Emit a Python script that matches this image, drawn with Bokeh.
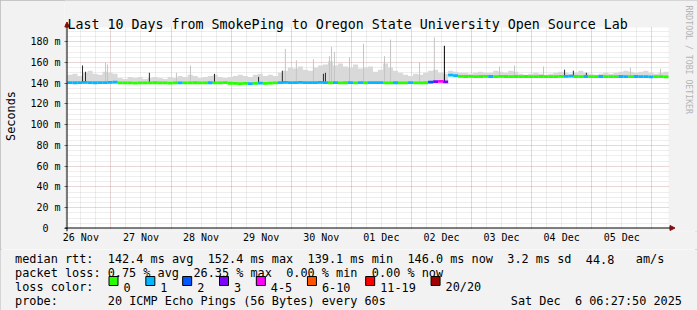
from datetime import datetime, timedelta
import math
import re
import numpy as np
from bokeh.plotting import figure
from bokeh.layouts import column
from bokeh.models import (Range1d, FixedTicker, Label, BoxAnnotation, Arrow,
                          NormalHead, ColumnDataSource, Grid)
from bokeh.core.properties import value
from bokeh.embed import file_html
from bokeh.resources import INLINE

# ---------------- data ----------------
title_text = "Last 10 Days from SmokePing to Oregon State University Open Source Lab"
start = datetime(2025, 11, 26, 6, 40)
end = start + timedelta(days=10)
step_hours = 2  # one sample every 2 hours

# upper edge of the grey "smoke" (ms)
smoke_top = [148, 149, 147, 150, 152, 149, 148, 151, 150, 149,
             145, 144, 146, 145, 146, 144, 145, 146, 145, 144, 146, 145, 147,
             146, 148, 147, 145, 146, 147, 148, 146, 145,
             146, 147, 148, 147, 146, 148, 149, 147, 148, 147,
             150, 152, 155, 154, 156, 153, 152, 155, 157,
             158, 161, 157, 159, 156, 155, 158, 154, 155, 156,
             151, 153, 159, 155, 152, 150,
             148, 147, 149, 148, 150,
             152, 153, 150, 149,
             152, 151, 150, 150, 149, 150, 151, 150, 150, 152, 151, 150, 152, 151,
             149, 148, 149, 150, 149, 148, 149, 150, 151, 150, 149, 150, 152, 150, 149,
             148, 149, 150, 149, 150, 151, 152, 151, 150, 151, 152, 150, 149, 150, 151]

# median rtt (ms)
median = [140.6, 140.4, 140.5, 140.8, 140.5, 140.4, 140.6, 140.5, 140.7, 140.9,
          140.2, 140.3, 140.2, 140.1, 140.3, 140.2, 140.2, 140.4, 140.3, 140.2, 140.1,
          140.3, 140.2, 140.2, 140.3, 140.4, 140.2, 140.3, 140.4, 140.2, 140.3, 140.5,
          139.9, 139.7, 139.6, 139.8, 139.5, 139.7, 140.1, 139.8, 140.0, 140.3,
          140.5, 140.8, 140.6, 140.5, 140.7, 140.6, 140.5, 140.6, 140.8,
          140.5, 140.4, 140.6, 140.3, 140.4, 140.5, 140.3, 140.6, 140.4, 140.5,
          140.6, 140.5, 140.3, 140.2, 140.4, 140.3,
          140.2, 140.5, 140.3, 140.2, 140.4,
          141.0, 141.4, 141.8, 141.2,
          147.8, 147.2, 146.6, 146.4, 146.5, 146.3, 146.4, 146.6, 146.4, 146.3, 146.5,
          146.4, 146.3, 146.4,
          146.3, 146.4, 146.2, 146.3, 146.4, 146.3, 146.2, 146.3, 146.5, 146.6, 146.8,
          146.4, 146.3, 146.4, 146.2, 146.3, 146.4, 146.3, 146.2, 146.3, 146.4, 146.3,
          146.2, 146.4, 146.3, 146.2, 146.1, 146.3, 146.2, 146.0]

# lost pings (of 20) per sample
loss = [1, 1, 1, 1, 1, 1, 1, 1, 1, 1,
        0, 0, 0, 0, 0, 0, 0, 0, 0, 0, 0, 0, 1, 0, 0, 0, 0, 0, 1, 0, 0, 0,
        0, 0, 0, 0, 1, 0, 1, 0, 0, 0,
        1, 1, 1, 1, 1, 1, 1, 1, 1,
        1, 0, 1, 0, 0, 1, 0, 1, 0, 1,
        1, 1, 0, 0, 1, 0,
        0, 1, 0, 0, 0,
        2, 3, 4, 3,
        1, 1, 0, 0, 0, 0, 0, 0, 1, 0, 0, 0, 0, 0,
        0, 0, 0, 0, 0, 0, 0, 0, 0, 1,
        1, 0, 0, 1, 0, 0, 1, 0, 0, 0,
        1, 1, 0, 1, 1, 1, 1, 0, 0, 0]

# thin spikes in the smoke (hours after start, top in ms, shade)
spike_hours = [6.0, 7.2, 15.2, 16.0, 32.7, 43.5, 49.1, 58.7, 76.3, 85.8, 87.0,
               91.4, 98.2, 102.2, 103.0, 104.6, 105.4, 106.6, 112.6, 118.2, 126.6,
               129.0, 140.6, 146.5, 150.5, 172.5, 178.5, 190.1, 198.5, 202.0, 207.2,
               224.8, 236.8]
spike_tops = [157, 151, 160, 158, 150, 150, 157, 149, 146, 152, 173,
              162, 163, 149, 150, 166, 175, 170, 165, 178, 166,
              182, 160, 184, 176, 156, 157, 156, 153, 152, 150,
              155, 154]
spike_kind = ["dark", "dark", "gray", "gray", "dark", "gray", "gray", "dark", "dark", "dark", "gray",
              "gray", "gray", "dark", "dark", "gray", "gray", "gray", "gray", "gray", "gray",
              "gray", "gray", "gray", "black", "gray", "gray", "gray", "dark", "dark", "dark",
              "gray", "gray"]

x_tick_days = ["2025-11-26", "2025-11-27", "2025-11-28", "2025-11-29", "2025-11-30",
               "2025-12-01", "2025-12-02", "2025-12-03", "2025-12-04", "2025-12-05"]
x_tick_labels = ["26 Nov", "27 Nov", "28 Nov", "29 Nov", "30 Nov",
                 "01 Dec", "02 Dec", "03 Dec", "04 Dec", "05 Dec"]
y_ticks = [0, 20, 40, 60, 80, 100, 120, 140, 160, 180]
y_tick_labels = ["0", "20 m", "40 m", "60 m", "80 m", "100 m", "120 m", "140 m", "160 m", "180 m"]

loss_labels = ["0", "1", "2", "3", "4-5", "6-10", "11-19", "20/20"]
loss_upper = [0, 1, 2, 3, 5, 10, 19, 20]
loss_colors = ["#26ff00", "#00b8ff", "#0059ff", "#7e00ff", "#ff00ff", "#ff5500", "#ff0000", "#a10000"]

legend_rows = [
    "median rtt:  142.4 ms avg  152.4 ms max  139.1 ms min  146.0 ms now  3.2 ms sd  44.8   am/s",
    "packet loss: 0.75 % avg  26.35 % max  0.00 % min  0.00 % now",
    "loss color:",
    "probe:       20 ICMP Echo Pings (56 Bytes) every 60s",
]
stamp_text = "Sat Dec  6 06:27:50 2025"
watermark = "RRDTOOL / TOBI OETIKER"

# ---------------- layout constants (pixels) ----------------
W, H = 697, 310
TOP_H = 249                   # height of the chart figure; legend figure below
PL, PR, PT, PB = 67, 668, 27, 228   # visible plot area
FRAME_L, FRAME_B = 64, 231    # bokeh frame edges (slightly outside the plot area)
FONT = "DejaVu Sans Mono"
LEG_SIZE = "11.85px"
CHAR_W = 7.135
BG = "#f2f2f2"
SHADE_COLORS = {"gray": "#c4c4c4", "dark": "#2a2a2a", "black": "#000000"}
MGRID = "#821e1e"
GRID = "#8c8c8c"
ARROW = "#801010"

EPOCH = datetime(1970, 1, 1)
HOUR = 3600 * 1000.0


def ms(dt):
    return (dt - EPOCH).total_seconds() * 1000.0


Y_MAX = 193.6
PX_PER_MS_X = (PR - PL) / (ms(end) - ms(start))
PX_PER_UNIT = (PB - PT) / Y_MAX


def xpx(px):        # pixel offset -> time units
    return px / PX_PER_MS_X


def ypx(px):        # pixel offset -> value units
    return px / PX_PER_UNIT


t0 = np.array([ms(start) + i * step_hours * HOUR for i in range(len(median))])
t1 = t0 + step_hours * HOUR
med = np.array(median)


def loss_color(n):
    for up, c in zip(loss_upper, loss_colors):
        if n <= up:
            return c
    return loss_colors[-1]


# ---------------- chart figure ----------------
p = figure(width=W, height=TOP_H, x_axis_type="datetime", output_backend="svg",
           toolbar_location=None,
           x_range=Range1d(ms(start) - xpx(PL - FRAME_L), ms(end) + xpx(W - PR)),
           y_range=Range1d(-ypx(FRAME_B - PB), Y_MAX + ypx(PT)),
           min_border_left=FRAME_L, min_border_right=0,
           min_border_top=0, min_border_bottom=TOP_H - FRAME_B,
           background_fill_color=BG, border_fill_color=BG,
           outline_line_color=None)

# white plot area
p.quad(left=[ms(start)], right=[ms(end)], bottom=[0], top=[Y_MAX],
       fill_color="white", line_color=None, level="image")

# grids
day_ms = [ms(datetime.fromisoformat(d)) for d in x_tick_days]
midnights = [d + 24 * HOUR for d in day_ms]
six_hours = [d + h * HOUR for d in day_ms for h in (6, 12, 18)]
p.xgrid.ticker = FixedTicker(ticks=midnights, minor_ticks=six_hours)
p.ygrid.ticker = FixedTicker(ticks=y_ticks[1:],
                             minor_ticks=[v for v in range(5, 195, 5) if v % 20])
for g in (p.xgrid, p.ygrid):
    g.grid_line_color = MGRID
    g.grid_line_alpha = 0.35
    g.grid_line_dash = "1 1"
    g.minor_grid_line_color = GRID
    g.minor_grid_line_alpha = 0.3
    g.minor_grid_line_dash = "1 1"

HAS_CROSS = "cross_bounds" in Grid.properties()
if HAS_CROSS:
    p.xgrid.cross_bounds = (0, Y_MAX)
    p.ygrid.cross_bounds = (ms(start), ms(end))

# x axis (line drawn by the arrow below)
p.xaxis.ticker = FixedTicker(ticks=[d + 12 * HOUR for d in day_ms])
p.xaxis.major_label_overrides = {d + 12 * HOUR: lab for d, lab in zip(day_ms, x_tick_labels)}
p.xaxis.axis_line_color = None
p.xaxis.major_tick_line_color = None
p.xaxis.minor_tick_line_color = None
p.xaxis.major_tick_out = 0
p.xaxis.major_tick_in = 0
p.xaxis.major_label_standoff = 0
p.xaxis.major_label_text_font = FONT
p.xaxis.major_label_text_font_size = "10px"
p.xaxis.major_label_text_color = "black"

# y axis (line drawn by the arrow below, ticks point into the 3px gap)
p.yaxis.ticker = FixedTicker(ticks=y_ticks)
p.yaxis.major_label_overrides = {t: (lab if lab != "0" else "0\u00a0\u00a0")
                                 for t, lab in zip(y_ticks, y_tick_labels)}
p.yaxis.axis_line_color = None
p.yaxis.major_tick_out = 0
p.yaxis.major_tick_in = PL - FRAME_L
p.yaxis.major_tick_line_color = "#666666"
p.yaxis.minor_tick_line_color = None
p.yaxis.major_label_standoff = 4
p.yaxis.major_label_text_font = FONT
p.yaxis.major_label_text_font_size = "10px"
p.yaxis.major_label_text_color = "black"
p.yaxis.axis_label = "Seconds"
p.yaxis.axis_label_text_font = FONT
p.yaxis.axis_label_text_font_size = LEG_SIZE
p.yaxis.axis_label_text_font_style = "normal"
p.yaxis.axis_label_text_color = "black"
p.yaxis.axis_label_standoff = 9

# smoke (single step polygon)
sx = np.ravel(np.column_stack([t0, t1]))
p.varea(x=sx, y1=np.repeat(med - 1.0, 2), y2=np.repeat(np.array(smoke_top, float), 2),
        fill_color="#d9d9d9", fill_alpha=1.0)

# spikes
sh = np.array([ms(start) + h * HOUR for h in spike_hours])
base = [median[min(int(h // step_hours), len(median) - 1)] for h in spike_hours]
p.segment(x0=sh, x1=sh, y0=base, y1=spike_tops,
          line_color=[SHADE_COLORS[k] for k in spike_kind], line_width=1)

# median line coloured by loss
src = ColumnDataSource(dict(x0=t0, x1=t1, y=med, c=[loss_color(n) for n in loss]))
p.segment(x0="x0", x1="x1", y0="y", y1="y", line_color="c", line_width=2.8, source=src)

# canvas-coloured bands around the plot area, only needed if grids cannot be bounded
if not HAS_CROSS:
    p.add_layout(BoxAnnotation(bottom=Y_MAX, fill_color=BG, fill_alpha=1.0, line_alpha=0))
    p.add_layout(BoxAnnotation(top=0, fill_color=BG, fill_alpha=1.0, line_alpha=0))
    p.add_layout(BoxAnnotation(left=ms(end), fill_color=BG, fill_alpha=1.0, line_alpha=0))
    p.add_layout(BoxAnnotation(right=ms(start) - xpx(1), fill_color=BG, fill_alpha=1.0,
                               line_alpha=0))

# axes with arrow heads
AX_X = ms(start) - xpx(0.5)
AX_Y = ypx(0.5)
p.add_layout(Arrow(x_start=AX_X, y_start=-ypx(3), x_end=AX_X,
                   y_end=Y_MAX + ypx(PT - 21.5), line_color="black", line_width=1,
                   end=NormalHead(size=5, fill_color=ARROW, line_color=ARROW)))
p.add_layout(Arrow(x_start=ms(start) - xpx(3), y_start=AX_Y, x_end=ms(end) + xpx(6.5),
                   y_end=AX_Y, line_color="black", line_width=1,
                   end=NormalHead(size=5, fill_color=ARROW, line_color=ARROW)))


def frame_label(txt, cx, cy, size, color="black", align="left", baseline="alphabetic",
                angle=0.0):
    p.add_layout(Label(x=cx - FRAME_L, y=FRAME_B - cy, x_units="screen", y_units="screen",
                       text=txt, text_font=FONT, text_font_size=size, text_color=color,
                       text_align=align, text_baseline=baseline, angle=angle))


frame_label(title_text, PL, 24.0, "13.3px")
frame_label(watermark, 688.5, 5, "8.2px", color="#b4b4b4", baseline="middle",
            angle=-math.pi / 2)

# ---------------- legend figure ----------------
q = figure(width=W, height=H - TOP_H, output_backend="svg", toolbar_location=None,
           x_range=Range1d(0, W), y_range=Range1d(H, TOP_H),
           min_border_left=0, min_border_right=0, min_border_top=0, min_border_bottom=0,
           x_axis_location=None, y_axis_location=None,
           background_fill_color=BG, border_fill_color=BG, outline_line_color=None)
q.grid.visible = False
for f in (p, q):
    if "frame_align" in f.properties():
        f.frame_align = False

row_base = [258.5, 272.6, 286.7, 300.8]
X0 = 14.5
tx, ty, tt = [], [], []


def add_run(s, x_start, yb):
    for m in re.finditer(r"\S+(?: \S+)*", s):
        tx.append(x_start + m.start() * CHAR_W)
        ty.append(yb)
        tt.append(m.group(0))


for row, yb in zip(legend_rows, row_base):
    add_run(row, X0, yb)
add_run(stamp_text, 681.5 - len(stamp_text) * CHAR_W, row_base[3])

# loss colour swatches
sw_l, sw_r, lab_x = [], [], []
sw = 108.5
for lab in loss_labels:
    sw_l.append(sw)
    sw_r.append(sw + 9)
    lx = sw + 14.5
    lab_x.append(lx)
    sw = lx + len(lab) * CHAR_W + 15.2
for lab, lx in zip(loss_labels, lab_x):
    tx.append(lx)
    ty.append(row_base[2])
    tt.append(lab)

q.quad(left=sw_l, right=sw_r, top=[276] * len(sw_l), bottom=[285] * len(sw_l),
       fill_color=loss_colors, line_color="black", line_width=1)
q.text(x=tx, y=ty, text=tt, text_font=value(FONT), text_font_size=value(LEG_SIZE),
       text_color="black", text_align="left", text_baseline="alphabetic")

layout = column(p, q, spacing=0,
                styles={"outline": "2px solid #b8b8b8", "outline-offset": "-2px"})

open("out.html", "w").write(file_html(layout, INLINE))
